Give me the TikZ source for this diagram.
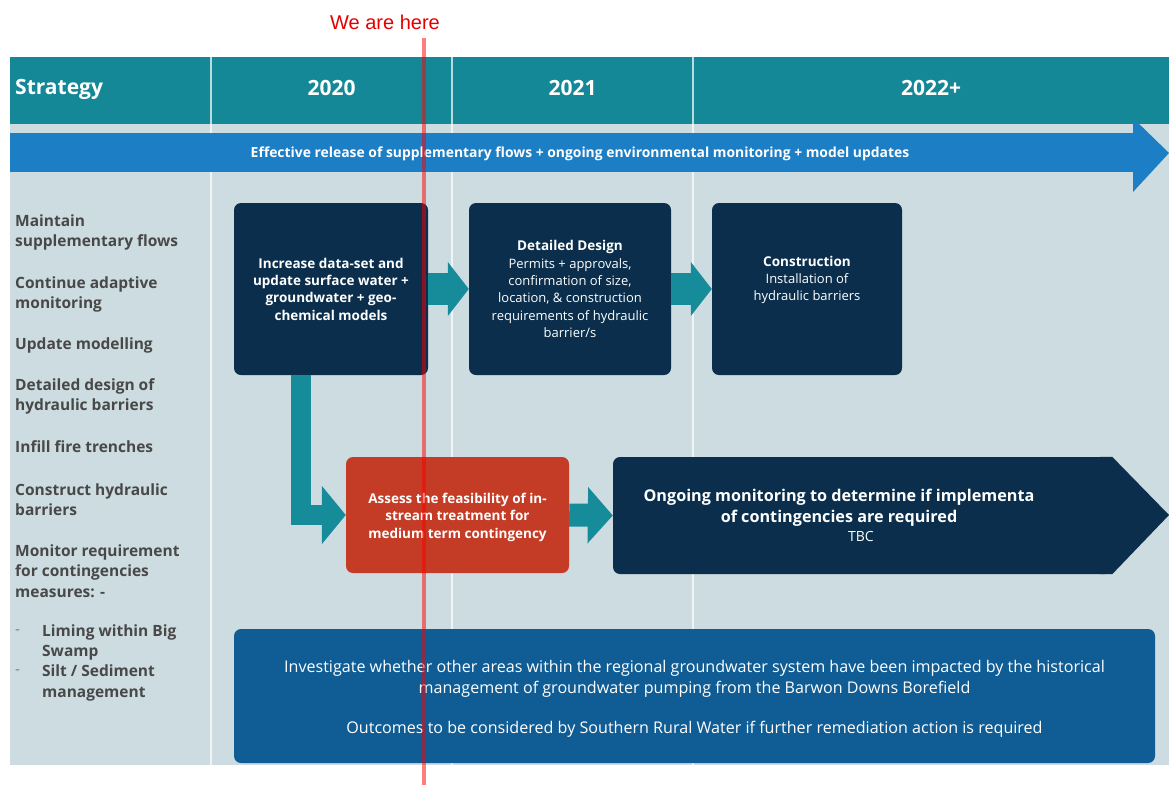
\documentclass[tikz,border=0pt]{standalone}
\usepackage{fontspec}
\setmainfont{Open Sans}
\newfontfamily\markfont{Liberation Sans}
\usetikzlibrary{arrows.meta, positioning}

\definecolor{headteal}{RGB}{20,136,150}
\definecolor{flowteal}{RGB}{22,140,155}
\definecolor{bandblue}{RGB}{28,126,196}
\definecolor{paneback}{RGB}{205,220,224}
\definecolor{navy}{RGB}{10,46,75}
\definecolor{riskred}{RGB}{196,60,38}
\definecolor{studyblue}{RGB}{16,92,148}
\definecolor{stratgrey}{RGB}{72,72,72}

\begin{document}
\begin{tikzpicture}[x=1pt, y=-1pt,
    strat/.style={anchor=west, align=left, inner sep=0pt, text=stratgrey,
      font=\bfseries\fontsize{15.5}{20.5}\selectfont},
    year/.style={text=white, font=\bfseries\fontsize{21}{24}\selectfont},
    stagebox/.style={fill=navy, rounded corners=7pt, text=white, align=center, inner sep=0pt},
    stagetext/.style={text=white, align=center, inner sep=0pt, font=\fontsize{13}{17.3}\selectfont},
    fatarrow/.style={draw=flowteal, line join=miter, -{Triangle[#1]}},
  ]
  \useasboundingbox (0,0) rectangle (1169,785);

  % panels
  \fill[paneback] (10,124) rectangle (1169,765);
  \fill[headteal] (10,57) rectangle (1169,124);
  \foreach \sx in {211,452,693}
    \draw[white, opacity=0.7, line width=1.5pt] (\sx,57) -- (\sx,765);

  % header
  \node[year, anchor=west, inner sep=0pt] (strategy) at (15,89) {Strategy};
  \node[year] (y2020) at (331.5,88) {2020};
  \node[year] (y2021) at (572.5,88) {2021};
  \node[year] (y2022) at (931,88) {2022+};

  % supplementary flows band
  \fill[bandblue] (10,133) rectangle (1133,172);
  \fill[bandblue] (1133,118) -- (1169,153) -- (1133,192) -- cycle;
  \node[text=white, font=\bfseries\fontsize{13.9}{16}\selectfont] (flows) at (580,154)
    {Effective release of supplementary flows + ongoing environmental monitoring + model updates};

  % strategy list
  \node[strat] (s1) at (15,232.5) {Maintain\\supplementary flows};
  \node[strat] (s2) at (15,294.5) {Continue adaptive\\monitoring};
  \node[strat] (s3) at (15,345) {Update modelling};
  \node[strat] (s4) at (15,396.5) {Detailed design of\\hydraulic barriers};
  \node[strat] (s5) at (15,447) {Infill fire trenches};
  \node[strat] (s6) at (15,499.5) {Construct hydraulic\\barriers};
  \node[strat] (s7) at (15,571) {Monitor requirement\\for contingencies\\measures: -};
  \node[strat, text=gray, font=\fontsize{15.5}{20.5}\selectfont] (d1) at (15,632) {-};
  \node[strat] (s8) at (42,642.5) {Liming within Big\\Swamp};
  \node[strat, text=gray, font=\fontsize{15.5}{20.5}\selectfont] (d2) at (15,672) {-};
  \node[strat] (s9) at (42,683) {Silt / Sediment\\management};

  % stages
  \node[stagebox, minimum width=194pt, minimum height=172pt,
    font=\bfseries\fontsize{13.5}{17.3}\selectfont] (A) at (331,289)
    {Increase data-set and\\update surface water +\\groundwater + geo-\\chemical models};
  \node[stagebox, minimum width=202pt, minimum height=172pt,
    font=\fontsize{13}{17.3}\selectfont] (B) at (570,289)
    {\textbf{\fontsize{13.5}{17.3}\selectfont Detailed Design}\\Permits + approvals,\\confirmation of size,\\location, \& construction\\requirements of hydraulic\\barrier/s};
  \node[stagebox, minimum width=190pt, minimum height=172pt] (C) at (807,289) {};
  \node[stagetext] (Ctxt) at (807,280)
    {\textbf{\fontsize{13.5}{17.3}\selectfont Construction}\\Installation of\\hydraulic barriers};

  \node[stagebox, fill=riskred, minimum width=223pt, minimum height=116pt] (D) at (457.5,515) {};
  \node[stagetext, font=\bfseries\fontsize{13.5}{17.5}\selectfont] (Dtxt) at (457.5,517)
    {Assess the feasibility of in-\\stream treatment for\\medium term contingency};
  \node[stagebox, minimum width=499pt, minimum height=117pt] (E) at (862.5,515.5) {};
  \fill[navy] ([xshift=-12pt]E.north east) -- (E.north east) -- (1169,515)
    -- (E.south east) -- ([xshift=-12pt]E.south east) -- cycle;
  \node[stagetext, font=\bfseries\fontsize{16.2}{21}\selectfont] (Etxt) at (839,515)
    {Ongoing monitoring to determine if implementa\\of contingencies are required\\[-2pt]
     {\mdseries\fontsize{14}{17}\selectfont\hspace*{44pt}TBC}};

  \node[stagebox, fill=studyblue, minimum width=921pt, minimum height=134pt] (F) at (694.5,696) {};
  \node[stagetext, font=\fontsize{16.1}{21}\selectfont] (Ftxt) at (694.5,699)
    {Investigate whether other areas within the regional groundwater system have been impacted by the historical\\management of groundwater pumping from the Barwon Downs Borefield\\[19pt]Outcomes to be considered by Southern Rural Water if further remediation action is required};

  % flow arrows
  \draw[fatarrow={length=21pt, width=53pt}, line width=32pt] (A.east) -- (B.west);
  \draw[fatarrow={length=21pt, width=53pt}, line width=32pt] (B.east) -- (C.west);
  \draw[fatarrow={length=24pt, width=57pt}, line width=20pt] ([xshift=-30pt]A.south) |- (D.west);
  \draw[fatarrow={length=25pt, width=55pt}, line width=23pt] (D.east) -- (E.west);

  % we are here
  \node[text=red!90!black, font=\markfont\fontsize{20}{24}\selectfont] (here) at (385,22) {We are here};
  \draw[red, opacity=0.5, line width=4pt] (424,38) -- (424,785);
\end{tikzpicture}
\end{document}
